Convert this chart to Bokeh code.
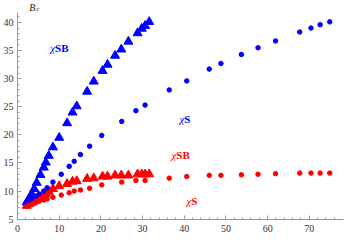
from bokeh.plotting import figure
from bokeh.models import Range1d, FixedTicker, Label, AllLabels
from bokeh.embed import file_html
from bokeh.resources import INLINE

# chi_SB (triangles) and chi_S (circles)
tri_x = [2.2, 2.8, 3.4, 4.0, 4.6, 5.5, 6.3, 6.8, 7.5, 8.5, 10.0, 11.9, 13.2, 14.2,
         16.7, 18.3, 20.4, 21.6, 23.4, 24.9, 26.6, 28.8, 29.8, 30.6, 31.6]
blue_tri_y = [8.0, 8.7, 9.5, 10.4, 11.5, 12.9, 14.2, 15.1, 16.3, 17.8, 19.5, 22.1, 24.0, 25.1,
              27.7, 29.5, 31.4, 32.5, 34.1, 35.2, 36.6, 38.1, 38.9, 39.4, 40.1]
red_tri_y = [7.4, 7.7, 8.0, 8.3, 8.6, 8.9, 9.3, 9.5, 9.9, 10.4, 10.9, 11.3, 11.7, 11.8,
             12.2, 12.3, 12.6, 12.6, 12.8, 12.8, 12.8, 13.0, 13.0, 13.0, 13.0]

circ_x = [2.2, 2.8, 3.5, 4.3, 5.2, 6.3, 7.1, 8.5, 10.5, 12.4, 13.6, 15.1, 17.3, 20.2,
          25.0, 28.4, 30.6, 36.4, 40.6, 46.0, 48.8, 53.7, 57.7, 61.9, 67.7, 70.4, 72.6, 74.9]
blue_circ_y = [7.8, 8.3, 8.7, 9.1, 9.5, 10.0, 10.6, 11.6, 13.0, 14.4, 15.3, 16.5, 18.0, 19.9,
               22.4, 24.3, 25.3, 28.0, 29.6, 31.7, 32.7, 34.3, 35.5, 36.7, 38.3, 39.0, 39.6, 40.1]
red_circ_y = [7.3, 7.5, 7.7, 7.9, 8.2, 8.4, 8.6, 8.9, 9.3, 9.7, 10.0, 10.2, 10.5, 11.1,
              11.6, 11.9, 11.9, 12.3, 12.6, 12.8, 12.8, 12.9, 13.0, 13.1, 13.2, 13.2, 13.2, 13.2]

x_ticks = [0, 10, 20, 30, 40, 50, 60, 70]
y_ticks = [5, 10, 15, 20, 25, 30, 35, 40]
x_minor = [v for v in range(0, 78, 2) if v % 10]
y_minor = [v for v in range(5, 42) if v % 5]

# series labels: (chi part, subscript part, x, baseline y, colour)
labels = [
    ("χ", "SB", 9.0, 35.4, "#0000ff"),
    ("χ", "S", 40.0, 22.9, "#0000ff"),
    ("χ", "SB", 38.1, 16.4, "#ff0000"),
    ("χ", "S", 41.7, 8.3, "#ff0000"),
]

X_END = 78.2
Y_START, Y_AXIS_END, Y_END = 4.95, 41.8, 43.9

p = figure(width=352, height=235, output_backend="svg", toolbar_location=None,
           x_range=Range1d(0, X_END), y_range=Range1d(Y_START, Y_END),
           min_border_left=14, min_border_right=9, min_border_top=0, min_border_bottom=16)
p.outline_line_color = None
p.grid.visible = False
p.background_fill_color = "white"

SERIF = "Liberation Serif"
for ax in (p.xaxis[0], p.yaxis[0]):
    ax.axis_line_color = "#9a9a9a"
    ax.major_tick_line_color = "#9a9a9a"
    ax.minor_tick_line_color = "#9a9a9a"
    ax.major_tick_in = 4
    ax.major_tick_out = 0
    ax.minor_tick_in = 2
    ax.minor_tick_out = 0
    ax.major_label_text_font = SERIF
    ax.major_label_text_font_size = "10px"
    ax.major_label_text_color = "#333333"
    ax.major_label_policy = AllLabels()

p.xaxis[0].ticker = FixedTicker(ticks=x_ticks, minor_ticks=x_minor)
p.yaxis[0].ticker = FixedTicker(ticks=y_ticks, minor_ticks=y_minor)
p.yaxis[0].bounds = (Y_START, Y_AXIS_END)
p.xaxis[0].major_label_standoff = 5
p.yaxis[0].major_label_standoff = 4

p.scatter(tri_x, blue_tri_y, marker="triangle", size=9, color="#0000ff")
p.scatter(tri_x, red_tri_y, marker="triangle", size=9, color="#ff0000")
p.scatter(circ_x, blue_circ_y, marker="circle", size=4.5, color="#0000ff")
p.scatter(circ_x, red_circ_y, marker="circle", size=4.5, color="#ff0000")

for chi, sub, lx, ly, col in labels:
    p.add_layout(Label(x=lx, y=ly, text=chi, text_align="right", text_baseline="alphabetic",
                       text_font=SERIF, text_font_style="italic", text_font_size="11px",
                       text_color=col))
    p.add_layout(Label(x=lx, y=ly, text=sub, text_align="left", text_baseline="alphabetic",
                       text_font=SERIF, text_font_style="bold", text_font_size="11px",
                       text_color=col))

# axis title B_c above the y axis
B_Y = 42.7
p.add_layout(Label(x=2.8, y=B_Y, text="B", text_align="left", text_baseline="alphabetic",
                   text_font=SERIF, text_font_style="italic", text_font_size="10px",
                   text_color="#222222"))
p.add_layout(Label(x=2.8, y=B_Y, x_offset=7, y_offset=-2, text="c", text_align="left",
                   text_baseline="alphabetic", text_font=SERIF, text_font_style="italic",
                   text_font_size="7px", text_color="#222222"))

open("out.html", "w").write(file_html(p, INLINE))
